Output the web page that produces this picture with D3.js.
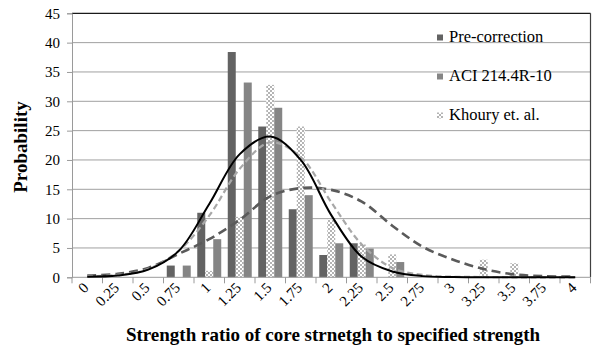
<!DOCTYPE html>
<html>
<head>
<meta charset="utf-8">
<script src="https://cdn.jsdelivr.net/npm/d3@7"></script>
<style>
  body { margin: 0; background: #fff; }
  svg { display: block; }
  text { font-family: "Liberation Serif", "Times New Roman", serif; fill: #000; }
</style>
</head>
<body>
<svg id="chart" width="594" height="350"></svg>
<script>
// Strength-ratio bins (category axis)
const categories = ["0", "0.25", "0.5", "0.75", "1", "1.25", "1.5", "1.75", "2",
                    "2.25", "2.5", "2.75", "3", "3.25", "3.5", "3.75", "4"];

// Histogram frequencies per bin
const preCorrection = [0, 0, 0, 2, 11, 38.4, 25.7, 11.6, 3.8, 5.8, 0, 0, 0, 0, 0, 0, 0];
const khoury        = [0, 0, 0, 0, 1.1, 10.3, 32.8, 25.7, 9.8, 5.6, 3.9, 0, 0, 3.0, 2.4, 0, 0];
const aci           = [0, 0, 0, 2, 6.5, 33.2, 28.9, 14.0, 5.8, 4.9, 2.6, 0, 0, 0, 0, 0, 0];

// Fitted distribution curves, one value per bin centre
const fitPre    = [0.1, 0.3, 1.3, 4.5, 12.5, 21, 24, 20, 10.6, 3.5, 1.0, 0.2, 0.05, 0, 0, 0, 0];
const fitKhoury = [0.2, 0.4, 1.4, 4.5, 10.5, 18.5, 23, 20.5, 12.8, 5.6, 1.6, 0.4, 0.1, 0.05, 0, 0, 0];
const fitAci    = [0.3, 0.6, 1.6, 4.0, 6.5, 9.8, 13.8, 15.2, 14.9, 12.9, 8.8, 5.2, 3.0, 1.4, 0.5, 0.2, 0.1];

const yTicks = [0, 5, 10, 15, 20, 25, 30, 35, 40, 45];

const seriesNames = ["Pre-correction", "Khoury et. al.", "ACI 214.4R-10"];
const legendOrder = ["Pre-correction", "ACI 214.4R-10", "Khoury et. al."];
const barData = { "Pre-correction": preCorrection, "Khoury et. al.": khoury, "ACI 214.4R-10": aci };

const svg = d3.select("#chart");
const defs = svg.append("defs");

// checker fill for the Khoury series
const pat = defs.append("pattern")
  .attr("id", "checker").attr("patternUnits", "userSpaceOnUse")
  .attr("width", 4).attr("height", 4);
pat.append("rect").attr("width", 4).attr("height", 4).attr("fill", "#ffffff");
pat.append("rect").attr("x", 0).attr("y", 0).attr("width", 2).attr("height", 2).attr("fill", "#b4b4b4");
pat.append("rect").attr("x", 2).attr("y", 2).attr("width", 2).attr("height", 2).attr("fill", "#b4b4b4");

const fills = { "Pre-correction": "#636363", "ACI 214.4R-10": "#858585", "Khoury et. al.": "url(#checker)" };

const plot = { left: 72, right: 590.5, top: 13.3, bottom: 277.3 };

const x = d3.scaleBand().domain(categories).range([plot.left, plot.right]).padding(0);
const xs = d3.scaleBand().domain(seriesNames).range([x.bandwidth() * 0.107, x.bandwidth() * 0.893]).padding(0);
const y = d3.scaleLinear().domain([0, 45]).range([plot.bottom, plot.top]);

// horizontal gridlines
svg.append("g").selectAll("line").data(yTicks.filter(d => d > 0 && d < 45)).join("line")
  .attr("x1", plot.left).attr("x2", plot.right)
  .attr("y1", d => y(d)).attr("y2", d => y(d))
  .attr("stroke", "#a0a0a0").attr("stroke-width", 1);

// plot frame: top and right edges
svg.append("line").attr("x1", plot.left).attr("x2", plot.right)
  .attr("y1", y(45)).attr("y2", y(45)).attr("stroke", "#1a1a1a").attr("stroke-width", 1.2);
svg.append("line").attr("x1", plot.right).attr("x2", plot.right)
  .attr("y1", y(45)).attr("y2", y(0)).attr("stroke", "#404040").attr("stroke-width", 1.2);

// y axis
const yAxis = svg.append("g").attr("transform", `translate(${plot.left},0)`)
  .call(d3.axisLeft(y).tickValues(yTicks).tickSize(5).tickPadding(7));
yAxis.select(".domain").attr("stroke", "#9a9a9a");
yAxis.selectAll(".tick line").attr("stroke", "#9a9a9a");
yAxis.selectAll(".tick text").style("font-size", "15px").attr("fill", "#222");

// bars
const groups = svg.append("g").selectAll("g").data(seriesNames).join("g");
groups.selectAll("rect")
  .data(s => categories.map((c, i) => ({ s, c, v: barData[s][i] })).filter(d => d.v > 0))
  .join("rect")
  .attr("x", d => x(d.c) + xs(d.s))
  .attr("width", xs.bandwidth())
  .attr("y", d => y(d.v))
  .attr("height", d => y(0) - y(d.v))
  .attr("fill", d => fills[d.s]);

// x axis: line, boundary ticks, rotated labels
svg.append("line").attr("x1", plot.left).attr("x2", plot.right)
  .attr("y1", y(0)).attr("y2", y(0)).attr("stroke", "#9a9a9a");
const bounds = categories.map(c => x(c)).concat([plot.right]);
svg.append("g").selectAll("line").data(bounds).join("line")
  .attr("x1", d => d).attr("x2", d => d)
  .attr("y1", y(0)).attr("y2", y(0) + 6)
  .attr("stroke", "#9a9a9a");

svg.append("g").selectAll("text").data(categories).join("text")
  .attr("transform", d => `translate(${x(d) + x.bandwidth() / 2 - 5},${y(0) + 4}) rotate(-45)`)
  .attr("text-anchor", "end")
  .attr("dy", "0.7em")
  .style("font-size", "15px")
  .attr("fill", "#222")
  .text(d => d);

// fitted curves
const line = d3.line()
  .x((d, i) => x(categories[i]) + x.bandwidth() / 2)
  .y(d => y(d))
  .curve(d3.curveCatmullRom.alpha(0.5));

svg.append("path").datum(fitAci).attr("d", line)
  .attr("fill", "none").attr("stroke", "#5a5a5a").attr("stroke-width", 2.6)
  .attr("stroke-dasharray", "9,5");
svg.append("path").datum(fitKhoury).attr("d", line)
  .attr("fill", "none").attr("stroke", "#a8a8a8").attr("stroke-width", 2.2)
  .attr("stroke-dasharray", "6,3.5");
svg.append("path").datum(fitPre).attr("d", line)
  .attr("fill", "none").attr("stroke", "#000").attr("stroke-width", 2);

// legend
const legend = svg.append("g").selectAll("g").data(legendOrder).join("g")
  .attr("transform", (d, i) => `translate(437,${42 + i * 39})`);
legend.append("rect").attr("x", 0).attr("y", -7.5).attr("width", 6).attr("height", 6)
  .attr("fill", d => fills[d]);
legend.append("text").attr("x", 12).attr("y", 0)
  .style("font-size", "16.5px").text(d => d);

// axis titles
svg.append("text")
  .attr("transform", "translate(27,147) rotate(-90)")
  .attr("text-anchor", "middle")
  .style("font-size", "19px").style("font-weight", "bold")
  .text("Probability");

svg.append("text")
  .attr("x", 333).attr("y", 341)
  .attr("text-anchor", "middle")
  .style("font-size", "19px").style("font-weight", "bold")
  .text("Strength ratio of core strnetgh to specified strength");
</script>
</body>
</html>
